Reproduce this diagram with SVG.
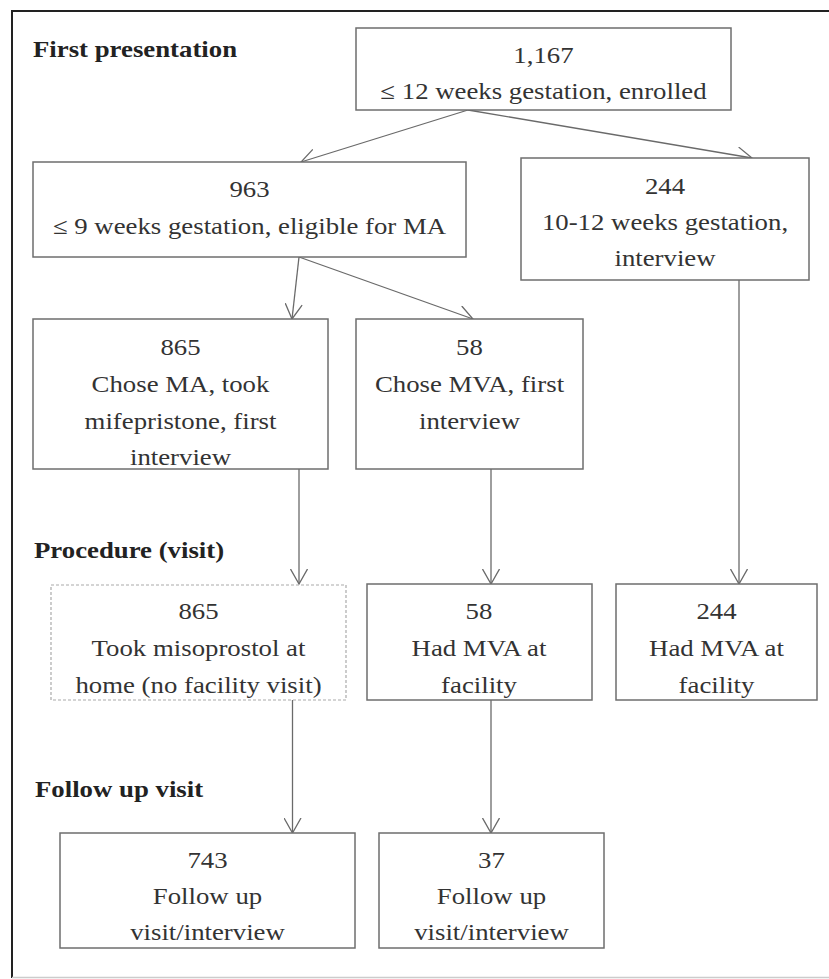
<svg xmlns="http://www.w3.org/2000/svg" width="829" height="979" viewBox="0 0 829 979">
<style>
.bg{fill:#ffffff}
.box{fill:#ffffff;stroke:#6e6e6e;stroke-width:1.5}
.dash{fill:#ffffff;stroke:#aaaaaa;stroke-width:1.2;stroke-dasharray:3 2}
.t{font-family:"Liberation Serif","Times New Roman",serif;font-size:23px;fill:#333333;text-anchor:middle}
.h{font-family:"Liberation Serif","Times New Roman",serif;font-size:23px;font-weight:bold;fill:#222222}
.c{fill:none;stroke:#6a6a6a;stroke-width:1.3}
</style>
<defs>
<marker id="ah" viewBox="0 0 16 18" refX="15.5" refY="9" markerWidth="16" markerHeight="18" markerUnits="userSpaceOnUse" orient="auto">
<path d="M0.5,0.5 L15.5,9 L0.5,17.5" fill="none" stroke="#6a6a6a" stroke-width="1.3"/>
</marker>
</defs>
<rect class="bg" x="0" y="0" width="829" height="979"/>
<g id="frame">
<line x1="12" y1="11" x2="829" y2="11" stroke="#222222" stroke-width="2"/>
<line x1="12" y1="10" x2="12" y2="978" stroke="#222222" stroke-width="2"/>
<line x1="12" y1="977.5" x2="829" y2="977.5" stroke="#cccccc" stroke-width="1.5"/>
</g>
<g id="headings">
<text class="h" transform="translate(33 0) scale(1.165 1)" x="0" y="57">First presentation</text>
<text class="h" transform="translate(34 0) scale(1.165 1)" x="0" y="558">Procedure (visit)</text>
<text class="h" transform="translate(35 0) scale(1.165 1)" x="0" y="797">Follow up visit</text>
</g>
<g id="connectors">
<line class="c" x1="468" y1="110" x2="301" y2="162" marker-end="url(#ah)"/>
<line class="c" x1="468" y1="110" x2="752" y2="158" marker-end="url(#ah)"/>
<line class="c" x1="299" y1="257" x2="292" y2="319" marker-end="url(#ah)"/>
<line class="c" x1="299" y1="257" x2="473" y2="319" marker-end="url(#ah)"/>
<line class="c" x1="299" y1="469" x2="299" y2="584" marker-end="url(#ah)"/>
<line class="c" x1="491" y1="469" x2="491" y2="584" marker-end="url(#ah)"/>
<line class="c" x1="739" y1="280" x2="739" y2="584" marker-end="url(#ah)"/>
<line class="c" x1="292.5" y1="700" x2="292.5" y2="833" marker-end="url(#ah)"/>
<line class="c" x1="491" y1="700" x2="491" y2="833" marker-end="url(#ah)"/>
</g>
<g id="n1167">
<rect class="box" x="356" y="28" width="375" height="82"/>
<text class="t" transform="translate(543.5 0) scale(1.165 1)" x="0" y="63">1,167</text>
<text class="t" transform="translate(543.5 0) scale(1.165 1)" x="0" y="99">≤ 12 weeks gestation, enrolled</text>
</g>
<g id="n963">
<rect class="box" x="33" y="162" width="433" height="95"/>
<text class="t" transform="translate(249.5 0) scale(1.165 1)" x="0" y="197">963</text>
<text class="t" transform="translate(249.5 0) scale(1.165 1)" x="0" y="234">≤ 9 weeks gestation, eligible for MA</text>
</g>
<g id="n244a">
<rect class="box" x="521" y="158" width="288" height="122"/>
<text class="t" transform="translate(665 0) scale(1.165 1)" x="0" y="194">244</text>
<text class="t" transform="translate(665 0) scale(1.165 1)" x="0" y="230">10-12 weeks gestation,</text>
<text class="t" transform="translate(665 0) scale(1.165 1)" x="0" y="266">interview</text>
</g>
<g id="n865a">
<rect class="box" x="33" y="319" width="295" height="150"/>
<text class="t" transform="translate(180.5 0) scale(1.165 1)" x="0" y="355">865</text>
<text class="t" transform="translate(180.5 0) scale(1.165 1)" x="0" y="392">Chose MA, took</text>
<text class="t" transform="translate(180.5 0) scale(1.165 1)" x="0" y="429">mifepristone, first</text>
<text class="t" transform="translate(180.5 0) scale(1.165 1)" x="0" y="465">interview</text>
</g>
<g id="n58a">
<rect class="box" x="356" y="319" width="227" height="150"/>
<text class="t" transform="translate(469.5 0) scale(1.165 1)" x="0" y="355">58</text>
<text class="t" transform="translate(469.5 0) scale(1.165 1)" x="0" y="392">Chose MVA, first</text>
<text class="t" transform="translate(469.5 0) scale(1.165 1)" x="0" y="429">interview</text>
</g>
<g id="n865b">
<rect class="dash" x="51" y="585" width="295" height="115"/>
<text class="t" transform="translate(198.5 0) scale(1.165 1)" x="0" y="619">865</text>
<text class="t" transform="translate(198.5 0) scale(1.165 1)" x="0" y="656">Took misoprostol at</text>
<text class="t" transform="translate(198.5 0) scale(1.165 1)" x="0" y="693">home (no facility visit)</text>
</g>
<g id="n58b">
<rect class="box" x="367" y="584" width="225" height="116"/>
<text class="t" transform="translate(479 0) scale(1.165 1)" x="0" y="619">58</text>
<text class="t" transform="translate(479 0) scale(1.165 1)" x="0" y="656">Had MVA at</text>
<text class="t" transform="translate(479 0) scale(1.165 1)" x="0" y="693">facility</text>
</g>
<g id="n244b">
<rect class="box" x="616" y="584" width="201" height="116"/>
<text class="t" transform="translate(716.5 0) scale(1.165 1)" x="0" y="619">244</text>
<text class="t" transform="translate(716.5 0) scale(1.165 1)" x="0" y="656">Had MVA at</text>
<text class="t" transform="translate(716.5 0) scale(1.165 1)" x="0" y="693">facility</text>
</g>
<g id="n743">
<rect class="box" x="60" y="833" width="295" height="115"/>
<text class="t" transform="translate(207.5 0) scale(1.165 1)" x="0" y="868">743</text>
<text class="t" transform="translate(207.5 0) scale(1.165 1)" x="0" y="904">Follow up</text>
<text class="t" transform="translate(207.5 0) scale(1.165 1)" x="0" y="940">visit/interview</text>
</g>
<g id="n37">
<rect class="box" x="379" y="833" width="225" height="115"/>
<text class="t" transform="translate(491.5 0) scale(1.165 1)" x="0" y="868">37</text>
<text class="t" transform="translate(491.5 0) scale(1.165 1)" x="0" y="904">Follow up</text>
<text class="t" transform="translate(491.5 0) scale(1.165 1)" x="0" y="940">visit/interview</text>
</g>
</svg>
